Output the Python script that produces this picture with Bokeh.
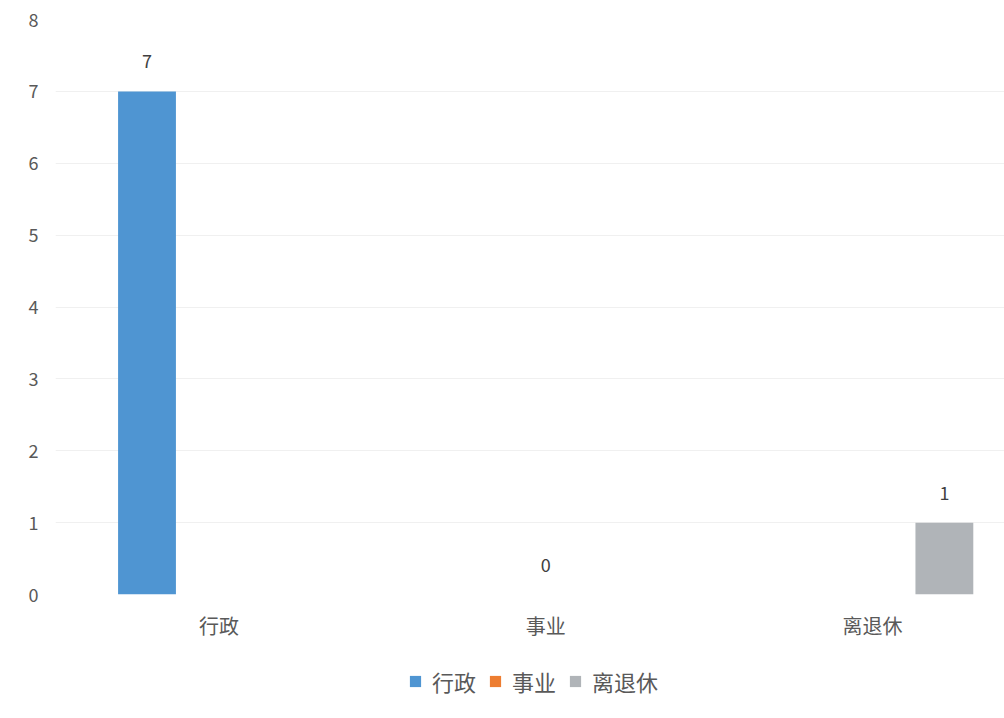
from bokeh.plotting import figure
from bokeh.models import ColumnDataSource, Range1d, FixedTicker, Legend, LegendItem
from bokeh.layouts import column
from bokeh.embed import file_html
from bokeh.resources import INLINE
from bokeh.core.properties import value

categories = ["行政", "事业", "离退休"]
series = ["行政", "事业", "离退休"]
values = [7, 0, 1]
colors = ["#4f95d2", "#ed7d31", "#b0b4b8"]
y_ticks = [0, 1, 2, 3, 4, 5, 6, 7, 8]

FONT = "Noto Sans CJK SC"
offsets = [-0.22, 0.0, 0.22]

p = figure(width=1004, height=650, output_backend="svg", toolbar_location=None,
           x_range=Range1d(-0.5, 2.404), y_range=Range1d(0, 8),
           min_border_left=55, min_border_right=0, min_border_top=19, min_border_bottom=56)
p.outline_line_color = None
p.background_fill_color = "white"
p.border_fill_color = "white"

# legend strip below the chart
lg = figure(width=1004, height=68, output_backend="svg", toolbar_location=None,
            x_range=Range1d(-0.5, 2.404), y_range=Range1d(100, 101),
            min_border_left=0, min_border_right=0, min_border_top=0, min_border_bottom=0)
lg.outline_line_color = None
lg.axis.visible = False
lg.grid.visible = False

leg_renderers = []
for i, (s, v, c) in enumerate(zip(series, values, colors)):
    x = i + offsets[i]
    src = ColumnDataSource(dict(x=[x], top=[v], lab=[str(v)]))
    p.vbar(x="x", top="top", width=0.177, bottom=0, source=src,
           fill_color=c, line_color=None)
    p.text(x="x", y="top", text="lab", source=src, text_align="center",
           text_baseline="bottom", y_offset=-23, text_font=value(FONT),
           text_font_size="18px", text_color="#404040")
    # same bars in the legend strip, outside its visible range, only to feed the legend
    r = lg.vbar(x="x", top="top", width=0.177, bottom=0, source=src,
                fill_color=c, line_color=None)
    leg_renderers.append(r)

p.xaxis.ticker = FixedTicker(ticks=list(range(len(categories))))
p.xaxis.major_label_overrides = {i: c for i, c in enumerate(categories)}
p.xaxis.axis_line_color = None
p.xaxis.major_tick_line_color = None
p.xaxis.minor_tick_line_color = None
p.xaxis.major_label_text_font = FONT
p.xaxis.major_label_text_font_size = "20px"
p.xaxis.major_label_text_color = "#595959"
p.xaxis.major_label_standoff = 10

p.yaxis.ticker = FixedTicker(ticks=y_ticks)
p.yaxis.axis_line_color = None
p.yaxis.major_tick_line_color = None
p.yaxis.minor_tick_line_color = None
p.yaxis.major_label_text_font = FONT
p.yaxis.major_label_text_font_size = "18px"
p.yaxis.major_label_text_color = "#595959"
p.yaxis.major_label_standoff = 11

p.xgrid.grid_line_color = None
p.ygrid.ticker = FixedTicker(ticks=y_ticks)
p.ygrid.grid_line_color = "#f0f0f0"

legend = Legend(items=[LegendItem(label=s, renderers=[r]) for s, r in zip(series, leg_renderers)],
                orientation="horizontal", location=(353, 21),
                label_text_font=FONT, label_text_font_size="22px",
                label_text_color="#595959", glyph_width=14, glyph_height=14,
                spacing=12, label_standoff=10, border_line_color=None,
                background_fill_alpha=0, margin=0, padding=2)
lg.add_layout(legend)

layout = column(p, lg, spacing=0)
open("out.html", "w").write(file_html(layout, INLINE))
